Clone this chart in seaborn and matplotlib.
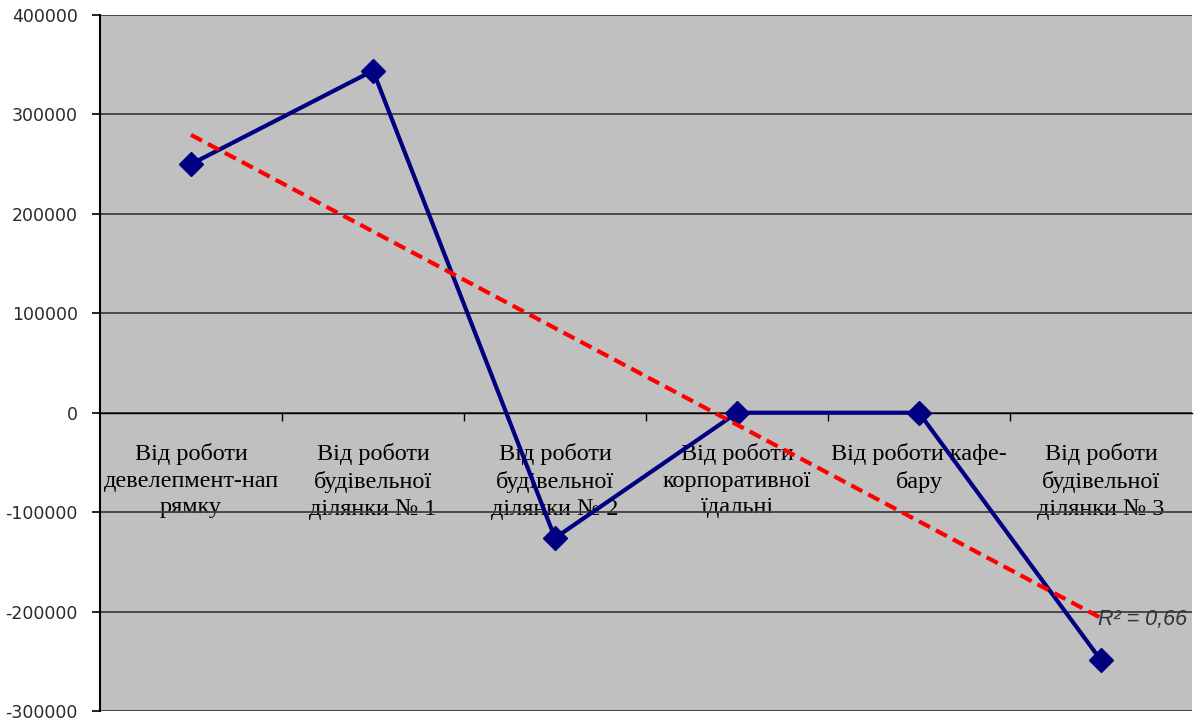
import numpy as np
import matplotlib
matplotlib.use("Agg")
import matplotlib.pyplot as plt
from matplotlib.ticker import FuncFormatter, FixedLocator
import seaborn as sns

# Financial result by line of business
categories = [
    "Від роботи\nдевелепмент-нап\nрямку",
    "Від роботи\nбудівельної\nділянки № 1",
    "Від роботи\nбудівельної\nділянки № 2",
    "Від роботи\nкорпоративної\nїдальні",
    "Від роботи кафе-\nбару",
    "Від роботи\nбудівельної\nділянки № 3",
]
values = [250000, 344000, -126000, 0, 0, -249000]
y_ticks = [-300000, -200000, -100000, 0, 100000, 200000, 300000, 400000]

sns.set_style("white")
plt.rcParams["font.family"] = ["DejaVu Sans"]

fig = plt.figure(figsize=(12, 7.24), dpi=100)
ax = fig.add_axes([100 / 1200, 1 - 711 / 724, 1092 / 1200, 696 / 724])
ax.set_facecolor("#C0C0C0")

xpos = np.arange(len(categories))

# series line with diamond markers
sns.lineplot(x=xpos, y=values, ax=ax, color="#000080", linewidth=3,
             marker="D", markersize=12.5, markeredgecolor="#000080",
             markeredgewidth=1, zorder=4)

# linear trend
sns.regplot(x=xpos, y=np.array(values, dtype=float), ax=ax, scatter=False,
            ci=None, truncate=True,
            line_kws=dict(color="#FF0000", linewidth=3,
                          linestyle=(0, (3, 1.6)), zorder=5))

slope, intercept = np.polyfit(xpos, values, 1)
fitted = slope * xpos + intercept
vals = np.array(values, dtype=float)
r2 = 1 - np.sum((vals - fitted) ** 2) / np.sum((vals - vals.mean()) ** 2)
ax.text(5.475, -208000, f"R² = {r2:.2f}".replace(".", ","), ha="right",
        va="center", fontsize=15.5, fontstyle="italic",
        family="Liberation Sans", color="#333333", zorder=6)

# spines first: moving a spine resets the axis ticks
ax.spines["top"].set_visible(False)
ax.spines["right"].set_visible(False)
ax.spines["left"].set_color("black")
ax.spines["left"].set_linewidth(1.5)
ax.spines["bottom"].set_position(("data", 0))
ax.spines["bottom"].set_color("black")
ax.spines["bottom"].set_linewidth(1.0)

ax.set_xlim(-0.5, len(categories) - 0.5)
ax.set_ylim(-300000, 400000)
ax.set_xlabel("")
ax.set_ylabel("")

ax.yaxis.set_major_locator(FixedLocator(y_ticks))
ax.yaxis.set_major_formatter(FuncFormatter(lambda v, p: f"{v:.0f}"))
ax.tick_params(axis="y", which="major", left=True, length=6, width=1.2,
               color="black", direction="out", pad=10, labelsize=12.5,
               labelcolor="#2a2a2a")

ax.set_xticks(np.arange(0.5, len(categories) - 1, 1), minor=True)
ax.tick_params(axis="x", which="major", bottom=True, length=0, pad=22)
ax.tick_params(axis="x", which="minor", bottom=True, length=6, width=1,
               color="black", direction="out")
ax.set_xticks(xpos)
ax.set_xticklabels(categories, family="Liberation Serif", fontsize=17.5,
                   linespacing=1.35, color="black")

ax.grid(axis="y", color="#404040", linewidth=1.3)
ax.grid(axis="x", visible=False)

fig.savefig("out.png", dpi=100)
